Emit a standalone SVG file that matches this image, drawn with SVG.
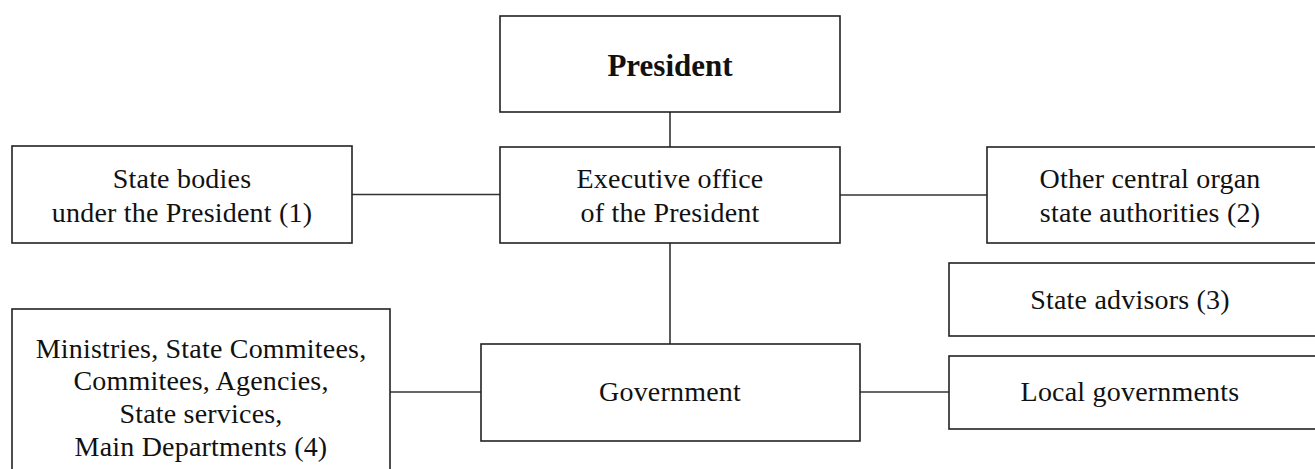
<svg xmlns="http://www.w3.org/2000/svg" width="1315" height="469" viewBox="0 0 1315 469">
<style>
.n rect{fill:#fff;stroke:#222;stroke-width:1.6}
text{font-family:"Liberation Serif","Times New Roman",serif;font-size:28px;letter-spacing:0.2px;fill:#111;text-anchor:middle}
.b{font-weight:bold;font-size:31px;letter-spacing:0}
.c line{stroke:#333;stroke-width:1.6}
</style>
<rect width="1315" height="469" fill="#fff"/>
<g class="c" id="connectors">
<line x1="670" y1="112" x2="670" y2="147"/>
<line x1="352" y1="194.5" x2="500" y2="194.5"/>
<line x1="840" y1="195" x2="987" y2="195"/>
<line x1="670" y1="243" x2="670" y2="344"/>
<line x1="390" y1="392" x2="481" y2="392"/>
<line x1="860" y1="392" x2="949" y2="392"/>
</g>
<g class="n" id="president"><rect x="500" y="16" width="340" height="96"/><text class="b" x="670" y="76">President</text></g>
<g class="n" id="executive"><rect x="500" y="147" width="340" height="96"/><text x="670" y="188">Executive office</text><text x="670" y="222">of the President</text></g>
<g class="n" id="state-bodies"><rect x="12" y="146" width="340" height="97"/><text x="182" y="188">State bodies</text><text x="182" y="222">under the President (1)</text></g>
<g class="n" id="other-central"><rect x="987" y="147" width="340" height="96"/><text x="1150" y="188">Other central organ</text><text x="1150" y="222">state authorities (2)</text></g>
<g class="n" id="state-advisors"><rect x="949" y="263" width="380" height="73"/><text x="1130" y="309">State advisors (3)</text></g>
<g class="n" id="ministries"><rect x="12" y="309" width="378" height="175"/><text x="201" y="358">Ministries, State Commitees,</text><text x="201" y="390">Commitees, Agencies,</text><text x="201" y="423">State services,</text><text x="201" y="456">Main Departments (4)</text></g>
<g class="n" id="government"><rect x="481" y="344" width="379" height="97"/><text x="670" y="401">Government</text></g>
<g class="n" id="local"><rect x="949" y="356" width="380" height="73"/><text x="1130" y="401">Local governments</text></g>
</svg>
